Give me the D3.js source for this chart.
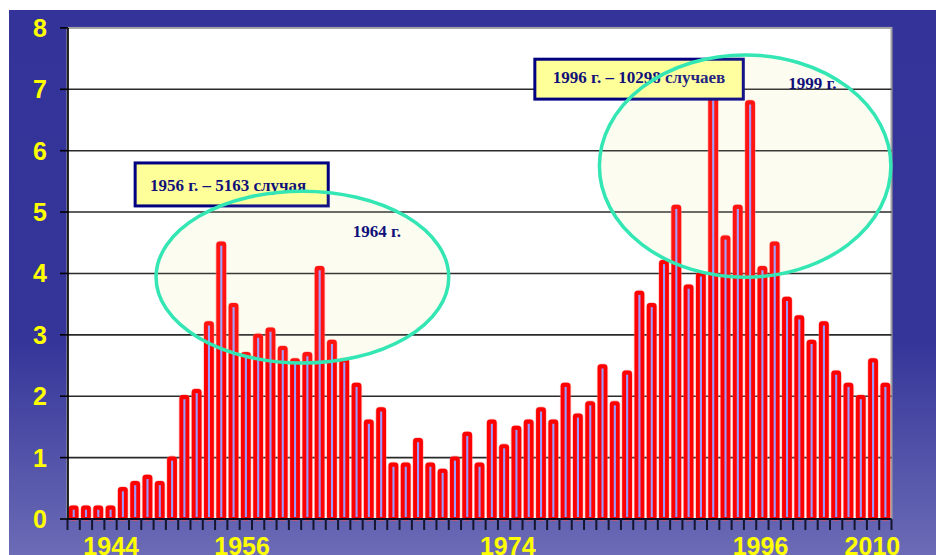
<!DOCTYPE html>
<html>
<head>
<meta charset="utf-8">
<script src="https://cdn.jsdelivr.net/npm/d3@7"></script>
<style>
  html, body { margin: 0; padding: 0; background: #ffffff; }
  svg { display: block; }
</style>
</head>
<body>
<svg id="chart" width="936" height="555"></svg>
<script>
// Yearly incidence, 1944–2010
const years = [
  1944, 1945, 1946, 1947, 1948, 1949, 1950, 1951, 1952, 1953,
  1954, 1955, 1956, 1957, 1958, 1959, 1960, 1961, 1962, 1963,
  1964, 1965, 1966, 1967, 1968, 1969, 1970, 1971, 1972, 1973,
  1974, 1975, 1976, 1977, 1978, 1979, 1980, 1981, 1982, 1983,
  1984, 1985, 1986, 1987, 1988, 1989, 1990, 1991, 1992, 1993,
  1994, 1995, 1996, 1997, 1998, 1999, 2000, 2001, 2002, 2003,
  2004, 2005, 2006, 2007, 2008, 2009, 2010
];
const values = [
  0.2, 0.2, 0.2, 0.2, 0.5, 0.6, 0.7, 0.6, 1.0, 2.0,
  2.1, 3.2, 4.5, 3.5, 2.7, 3.0, 3.1, 2.8, 2.6, 2.7,
  4.1, 2.9, 2.6, 2.2, 1.6, 1.8, 0.9, 0.9, 1.3, 0.9,
  0.8, 1.0, 1.4, 0.9, 1.6, 1.2, 1.5, 1.6, 1.8, 1.6,
  2.2, 1.7, 1.9, 2.5, 1.9, 2.4, 3.7, 3.5, 4.2, 5.1,
  3.8, 4.0, 7.3, 4.6, 5.1, 6.8, 4.1, 4.5, 3.6, 3.3,
  2.9, 3.2, 2.4, 2.2, 2.0, 2.6, 2.2
];
const yTicks = [0, 1, 2, 3, 4, 5, 6, 7, 8];
// Year captions under the axis and the (fractional) year each one sits over
const xLabels = ["1944", "1956", "1974", "1996", "2010"];
const xLabelAt = [1947.05, 1957.7, 1979.3, 1999.85, 2008.95];

// Call-outs
const boxTexts = ["1956 г. – 5163 случая", "1996 г. – 10298 случаев"];
const noteTexts = ["1964 г.", "1999 г."];

const svg = d3.select("#chart");

// ---- background panel ----
const defs = svg.append("defs");
const grad = defs.append("linearGradient")
  .attr("id", "bg").attr("x1", 0).attr("y1", 0).attr("x2", 0).attr("y2", 1);
grad.append("stop").attr("offset", "0").attr("stop-color", "#333399");
grad.append("stop").attr("offset", "0.6").attr("stop-color", "#343499");
grad.append("stop").attr("offset", "1").attr("stop-color", "#6b6bb6");

svg.append("rect")
  .attr("x", 9).attr("y", 10).attr("width", 927).attr("height", 545)
  .attr("fill", "url(#bg)");

// ---- scales ----
const plot = { left: 67.5, right: 891.5, top: 27.9, bottom: 519 };

const x = d3.scaleBand()
  .domain(years)
  .range([plot.left, plot.right])
  .paddingInner(0).paddingOuter(0);

const xYear = d3.scaleLinear()
  .domain([years[0], years[years.length - 1]])
  .range([x(years[0]) + x.bandwidth() / 2, x(years[years.length - 1]) + x.bandwidth() / 2]);

const y = d3.scaleLinear().domain([0, 8]).range([plot.bottom, plot.top]);

// ---- plot area ----
svg.append("rect")
  .attr("x", plot.left).attr("y", plot.top)
  .attr("width", plot.right - plot.left).attr("height", plot.bottom - plot.top)
  .attr("fill", "#ffffff")
  .attr("stroke", "#a0a0a0").attr("stroke-width", 2);

// highlight ellipses around the two epidemic waves (fill drawn under the bars)
const waves = [
  { cYear: 1962.6, cVal: 3.94, rYears: 11.9, rVal: 1.40 },
  { cYear: 1998.6, cVal: 5.75, rYears: 11.85, rVal: 1.81 }
];
const pxPerYear = xYear(1) - xYear(0);
const ellipseAttrs = sel => sel
  .attr("cx", d => xYear(d.cYear))
  .attr("cy", d => y(d.cVal))
  .attr("rx", d => d.rYears * pxPerYear)
  .attr("ry", d => y(0) - y(d.rVal));

svg.append("g")
  .selectAll("ellipse")
  .data(waves)
  .join("ellipse")
  .call(ellipseAttrs)
  .attr("fill", "#fcfcf1");

svg.append("g")
  .selectAll("line")
  .data(yTicks.filter(d => d > 0 && d < 8))
  .join("line")
  .attr("x1", plot.left).attr("x2", plot.right)
  .attr("y1", d => y(d)).attr("y2", d => y(d))
  .attr("stroke", "#2a2a2a").attr("stroke-width", 1.6);

// ---- bars ----
const data = years.map((yr, i) => ({ year: yr, value: values[i] }));
const barW = 7.4;
const bars = svg.append("g");

bars.selectAll("rect.halo")
  .data(data)
  .join("rect")
  .attr("class", "halo")
  .attr("x", d => x(d.year) + (x.bandwidth() - barW) / 2)
  .attr("y", d => y(d.value))
  .attr("width", barW)
  .attr("height", d => y(0) - y(d.value))
  .attr("rx", 2.5)
  .attr("fill", "none")
  .attr("stroke", "#ff8080").attr("stroke-opacity", 0.45).attr("stroke-width", 4);

bars.selectAll("rect.bar")
  .data(data)
  .join("rect")
  .attr("class", "bar")
  .attr("x", d => x(d.year) + (x.bandwidth() - barW) / 2)
  .attr("y", d => y(d.value))
  .attr("width", barW)
  .attr("height", d => y(0) - y(d.value))
  .attr("rx", 2)
  .attr("fill", "#ff0000")
  .attr("stroke", "#ff0000").attr("stroke-width", 2.4);

bars.selectAll("rect.core")
  .data(data)
  .join("rect")
  .attr("class", "core")
  .attr("x", d => x(d.year) + x.bandwidth() / 2 - 1)
  .attr("y", d => y(d.value) + 3)
  .attr("width", 2.1)
  .attr("height", d => Math.max(0, y(0) - y(d.value) - 5))
  .attr("fill", "#9a9aff");

// ---- axes ----
svg.append("line")
  .attr("x1", plot.left).attr("x2", plot.right)
  .attr("y1", y(0)).attr("y2", y(0))
  .attr("stroke", "#0a0a1e").attr("stroke-width", 2);

const bounds = years.map(yr => x(yr)).concat([x(years[years.length - 1]) + x.bandwidth()]);
svg.append("g")
  .selectAll("line")
  .data(bounds)
  .join("line")
  .attr("x1", d => d).attr("x2", d => d)
  .attr("y1", y(0)).attr("y2", y(0) + 11)
  .attr("stroke", "#151530").attr("stroke-width", 2);

svg.append("line")
  .attr("x1", plot.left + 0.5).attr("x2", plot.left + 0.5)
  .attr("y1", plot.top).attr("y2", y(0))
  .attr("stroke", "#000000").attr("stroke-width", 1.6);

svg.append("g")
  .selectAll("line")
  .data(yTicks)
  .join("line")
  .attr("x1", 60).attr("x2", plot.left + 0.5)
  .attr("y1", d => y(d)).attr("y2", d => y(d))
  .attr("stroke", "#000000").attr("stroke-width", 1.6);

svg.append("g")
  .selectAll("text")
  .data(yTicks)
  .join("text")
  .attr("x", 40)
  .attr("y", d => y(d) + 9)
  .attr("text-anchor", "middle")
  .attr("font-family", "'Liberation Sans', Arial, sans-serif")
  .attr("font-weight", "bold")
  .attr("font-size", 25)
  .attr("fill", "#ffff00")
  .text(d => d);

svg.append("g")
  .selectAll("text")
  .data(xLabels)
  .join("text")
  .attr("x", (d, i) => xYear(xLabelAt[i]))
  .attr("y", 555)
  .attr("text-anchor", "middle")
  .attr("font-family", "'Liberation Sans', Arial, sans-serif")
  .attr("font-weight", "bold")
  .attr("font-size", 25)
  .attr("fill", "#ffff00")
  .text(d => d);

// ---- call-out boxes ----
const serif = "'Liberation Serif', 'Times New Roman', serif";
const navy = "#10107a";

const boxes = [
  { x0: 1949.0, x1: 1964.7, v0: 5.10, v1: 5.80 },
  { x0: 1981.5, x1: 1998.45, v0: 6.84, v1: 7.49 }
];

const boxG = svg.append("g");
boxG.selectAll("rect")
  .data(boxes)
  .join("rect")
  .attr("x", d => xYear(d.x0)).attr("y", d => y(d.v1))
  .attr("width", d => xYear(d.x1) - xYear(d.x0))
  .attr("height", d => y(d.v0) - y(d.v1))
  .attr("fill", "#ffff99")
  .attr("stroke", "#000080").attr("stroke-width", 3);

boxG.append("text")
  .attr("x", xYear(1950.2)).attr("y", y(5.34))
  .attr("font-family", serif).attr("font-weight", "bold").attr("font-size", 17)
  .attr("fill", navy).text(boxTexts[0]);
boxG.append("text")
  .attr("x", (xYear(boxes[1].x0) + xYear(boxes[1].x1)) / 2).attr("y", y(7.11))
  .attr("text-anchor", "middle")
  .attr("font-family", serif).attr("font-weight", "bold").attr("font-size", 17)
  .attr("fill", navy).text(boxTexts[1]);

// ellipse outlines sit on top of everything
svg.append("g")
  .selectAll("ellipse")
  .data(waves)
  .join("ellipse")
  .call(ellipseAttrs)
  .attr("fill", "#fafae6").attr("fill-opacity", 0.08)
  .attr("stroke", "#33e6b4").attr("stroke-width", 3.5);

// ---- year notes ----
svg.append("text")
  .attr("x", xYear(1966.7)).attr("y", y(4.59))
  .attr("font-family", serif).attr("font-weight", "bold").attr("font-size", 17)
  .attr("fill", navy).text(noteTexts[0]);
svg.append("text")
  .attr("x", xYear(2002.1)).attr("y", y(7.0))
  .attr("font-family", serif).attr("font-weight", "bold").attr("font-size", 17)
  .attr("fill", navy).text(noteTexts[1]);
</script>
</body>
</html>
